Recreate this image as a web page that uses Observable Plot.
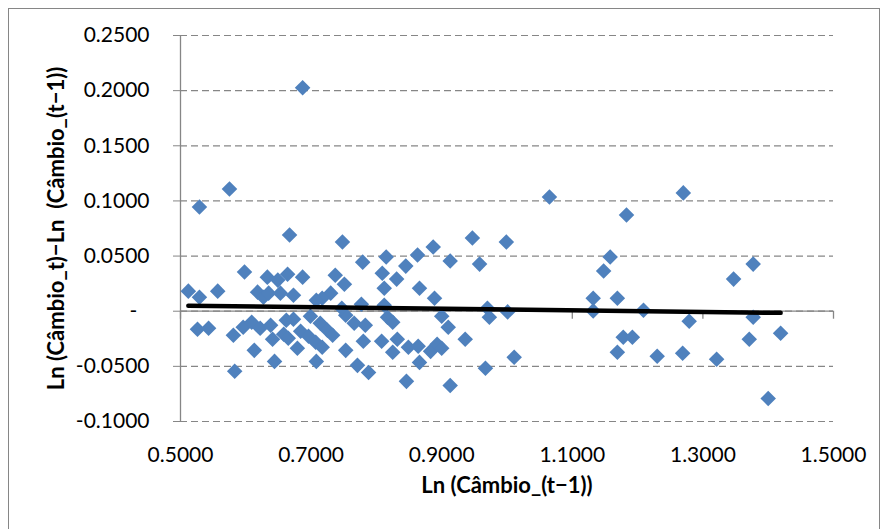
<!DOCTYPE html>
<html>
<head>
<meta charset="utf-8">
<script src="https://cdn.jsdelivr.net/npm/d3@7"></script>
<script src="https://cdn.jsdelivr.net/npm/@observablehq/plot@0.6"></script>
<style>
  html, body { margin: 0; padding: 0; background: #fff; }
  #wrap { position: relative; width: 887px; height: 529px; overflow: hidden; }
  #border { position: absolute; left: 8px; top: 8px; width: 872px; height: 540px; border: 1px solid #868686; box-sizing: border-box; pointer-events: none; }
</style>
</head>
<body>
<div id="wrap"><div id="chart"></div><div id="border"></div></div>
<script>
const xLabel = "Ln (Câmbio_(t−1))";
const yLabel = "Ln (Câmbio_t)−Ln\u00a0 (Câmbio_(t−1))";

const xTicks = [0.5, 0.7, 0.9, 1.1, 1.3, 1.5];
const yTicks = [-0.1, -0.05, 0, 0.05, 0.1, 0.15, 0.2, 0.25];

const xValues = [
  0.687,0.575,0.529,0.667,0.748,0.512,0.529,0.557,0.598,0.633,
  0.649,0.664,0.618,0.627,0.635,0.653,0.673,0.687,0.737,0.751,
  0.730,0.717,0.708,0.699,0.526,0.543,0.581,0.596,0.609,0.622,
  0.638,0.641,0.658,0.662,0.673,0.613,0.644,0.583,0.665,0.684,
  0.696,0.707,0.717,0.679,0.708,0.714,0.725,0.733,0.753,0.766,
  0.783,0.753,0.747,0.779,0.815,0.809,0.831,0.812,0.777,0.812,
  0.817,0.825,0.780,0.808,0.832,0.825,0.771,0.788,0.947,0.999,
  0.887,0.863,0.913,0.845,0.958,0.866,0.889,0.970,0.973,1.001,
  0.900,0.910,0.936,0.849,0.864,0.883,0.893,0.900,0.866,0.967,
  0.846,0.913,1.011,1.065,1.183,1.158,1.148,1.132,1.169,1.132,
  1.178,1.192,1.169,1.270,1.377,1.347,1.209,1.279,1.377,1.419,
  1.371,1.230,1.269,1.321,1.400
];
const yValues = [
  0.2027,0.1109,0.0945,0.0691,0.0627,0.0182,0.0127,0.0182,0.0355,0.0309,
  0.0282,0.0336,0.0173,0.0127,0.0164,0.0164,0.0145,0.0309,0.0327,0.0245,
  0.0164,0.0118,0.0100,-0.0045,-0.0164,-0.0155,-0.0218,-0.0145,-0.0100,-0.0155,
  -0.0127,-0.0255,-0.0209,-0.0082,-0.0073,-0.0355,-0.0455,-0.0545,-0.0245,-0.0182,
  -0.0227,-0.0282,-0.0327,-0.0336,-0.0455,-0.0109,-0.0173,-0.0218,-0.0036,-0.0109,
  -0.0127,-0.0355,0.0027,0.0445,0.0491,0.0345,0.0291,0.0209,0.0064,0.0055,
  -0.0055,-0.0100,-0.0273,-0.0273,-0.0255,-0.0373,-0.0491,-0.0555,0.0664,0.0627,
  0.0582,0.0509,0.0455,0.0409,0.0427,0.0209,0.0118,0.0027,-0.0055,-0.0006,
  -0.0045,-0.0145,-0.0255,-0.0327,-0.0318,-0.0364,-0.0300,-0.0336,-0.0464,-0.0518,
  -0.0636,-0.0673,-0.0418,0.1036,0.0873,0.0491,0.0364,0.0118,0.0118,0.0003,
  -0.0236,-0.0236,-0.0373,0.1073,0.0427,0.0291,0.0009,-0.0091,-0.0055,-0.0200,
  -0.0255,-0.0409,-0.0382,-0.0436,-0.0791
];

const trendX = [0.512, 1.419];
const trendY = [0.0050, -0.0015];

const points = xValues.map((x, i) => ({x, y: yValues[i]}));
const trend = trendX.map((x, i) => ({x, y: trendY[i]}));

const gray = "#868686";
const blue = "#4F81BD";

const chart = Plot.plot({
  width: 887,
  height: 529,
  marginLeft: 180,
  marginRight: 54,
  marginTop: 35,
  marginBottom: 108,
  style: { fontFamily: "Lato, 'Open Sans', sans-serif", fontSize: "21px", color: "#000", background: "#fff" },
  x: { domain: [0.5, 1.5], label: null },
  y: { domain: [-0.1, 0.25], label: null },
  marks: [
    Plot.ruleY(yTicks, { stroke: gray, strokeWidth: 1.2, strokeDasharray: "7,4" }),
    Plot.ruleX([0.5], { stroke: gray, strokeWidth: 1.3 }),
    Plot.axisY({ ticks: yTicks, tickSize: 7, tickPadding: 24, stroke: gray, fill: "#000", fontSize: 21,
      tickFormat: d => d === 0 ? "-\u2007" : d.toFixed(4), label: null }),
    Plot.axisX({ ticks: xTicks, tickSize: 0, tickPadding: 26, fill: "#000", fontSize: 21,
      tickFormat: d => d.toFixed(4), label: null }),
    Plot.ruleY([0], { stroke: gray, strokeWidth: 1.3 }),
    Plot.ruleX(xTicks, { x: d => d, y1: 0, y2: 0, insetBottom: -8, stroke: gray, strokeWidth: 1.3 }),
    Plot.dot(points, { x: "x", y: "y", symbol: "diamond2", r: 7, fill: blue, stroke: "none" }),
    Plot.line(trend, { x: "x", y: "y", stroke: "#000", strokeWidth: 4.5 }),
    Plot.text([xLabel], { frameAnchor: "bottom", textAnchor: "middle", dy: 71, fontWeight: "bold", fontSize: 22, fill: "#000" }),
    Plot.text([yLabel], { frameAnchor: "left", textAnchor: "middle", dx: -124, rotate: -90, fontWeight: "bold", fontSize: 22, fill: "#000" })
  ]
});
document.getElementById("chart").appendChild(chart);
</script>
</body>
</html>
